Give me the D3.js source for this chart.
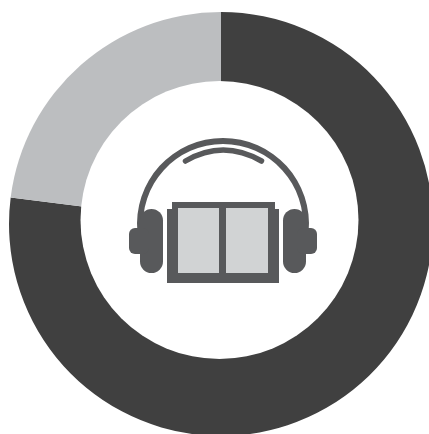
<!DOCTYPE html>
<html lang="en">
	<head>
		<title>Audiobook donut</title>
		<meta charset="utf-8">
		<style>
			html, body { margin: 0; padding: 0; background: #fff; overflow: hidden; }
			svg { display: block; }
		</style>
	</head>
	<body>
		<div class="graph"></div>
		<script src="https://d3js.org/d3.v7.min.js"></script>
		<script>
		// chart values
		var categories = ['yes', 'no'];
		var shares = [77, 23];
		var colors = ['#404040', '#bcbec0'];

		var width = 429, height = 434;
		var cx = 221, cy = 224;
		var outerR = 212;
		// the hole sits slightly off centre in the original
		var holeX = 219.5, holeY = 220, holeR = 139;
		var iconDark = '#58595b', iconLight = '#d1d3d4';

		var svg = d3.select('.graph').append('svg')
			.attr('width', width)
			.attr('height', height);

		var pie = d3.pie().sort(null)(shares);
		var arc = d3.arc().innerRadius(0).outerRadius(outerR);

		svg.append('g')
			.attr('transform', 'translate(' + cx + ',' + cy + ')')
			.selectAll('path')
			.data(pie)
			.join('path')
			.attr('class', function(d, i) { return categories[i]; })
			.attr('d', arc)
			.attr('fill', function(d, i) { return colors[i]; });

		svg.append('circle')
			.attr('cx', holeX)
			.attr('cy', holeY)
			.attr('r', holeR)
			.attr('fill', '#fff');

		// headphones + book icon in the hole
		var icon = svg.append('g').attr('class', 'icon');

		// head band
		icon.append('path')
			.attr('transform', 'translate(223,224)')
			.attr('d', d3.arc()({innerRadius: 80, outerRadius: 86, startAngle: -Math.PI * 0.53, endAngle: Math.PI * 0.53}))
			.attr('fill', iconDark);

		// inner band
		icon.append('path')
			.attr('d', 'M185.5,161 Q223,139 261.5,161')
			.attr('fill', 'none')
			.attr('stroke', iconDark)
			.attr('stroke-width', 5.5)
			.attr('stroke-linecap', 'round');

		// ear cups
		var cups = [[140, 23], [283, 23]];
		var pads = [[129, 20], [297, 20]];
		icon.selectAll('rect.cup').data(cups).join('rect')
			.attr('class', 'cup')
			.attr('x', function(d) { return d[0]; })
			.attr('y', 209)
			.attr('width', function(d) { return d[1]; })
			.attr('height', 64)
			.attr('rx', 11.5)
			.attr('fill', iconDark);
		icon.selectAll('rect.pad').data(pads).join('rect')
			.attr('class', 'pad')
			.attr('x', function(d) { return d[0]; })
			.attr('y', 228)
			.attr('width', function(d) { return d[1]; })
			.attr('height', 26)
			.attr('rx', 6)
			.attr('fill', iconDark);

		// book
		icon.append('rect').attr('x', 167).attr('y', 209).attr('width', 112).attr('height', 74).attr('fill', iconDark);
		icon.append('rect').attr('x', 172).attr('y', 202).attr('width', 103).attr('height', 10).attr('fill', iconDark);
		icon.append('rect').attr('x', 178).attr('y', 208).attr('width', 41).attr('height', 65).attr('fill', iconLight);
		icon.append('rect').attr('x', 226).attr('y', 208).attr('width', 42).attr('height', 65).attr('fill', iconLight);
		</script>
	</body>
</html>
